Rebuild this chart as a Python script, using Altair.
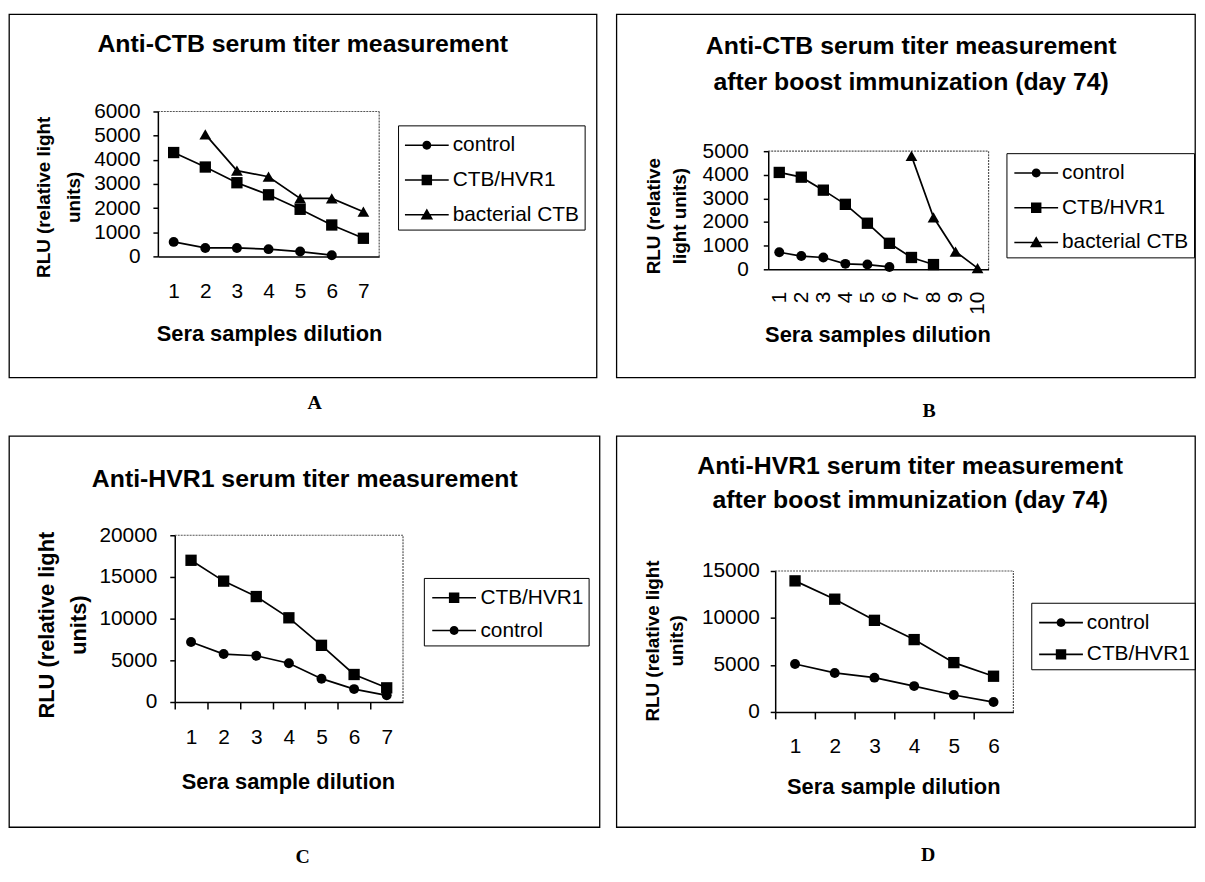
import altair as alt
import pandas as pd

SANS = "Liberation Sans"
SERIF = "Liberation Serif"

# ---------------- data ----------------
A_control_dil = [1, 2, 3, 4, 5, 6]
A_control = [600, 350, 350, 300, 200, 50]
A_ctb_dil = [1, 2, 3, 4, 5, 6, 7]
A_ctb_hvr1 = [4300, 3700, 3050, 2550, 1950, 1300, 750]
A_bact_dil = [2, 3, 4, 5, 6, 7]
A_bacterial = [5050, 3550, 3300, 2400, 2400, 1850]

B_control_dil = [1, 2, 3, 4, 5, 6]
B_control = [720, 560, 500, 230, 200, 100]
B_ctb_dil = [1, 2, 3, 4, 5, 6, 7, 8]
B_ctb_hvr1 = [4100, 3900, 3350, 2750, 1950, 1100, 500, 200]
B_bact_dil = [7, 8, 9, 10]
B_bacterial = [4800, 2200, 750, 50]

C_dil = [1, 2, 3, 4, 5, 6, 7]
C_ctb_hvr1 = [17000, 14500, 12650, 10100, 6800, 3300, 1700]
C_control = [7200, 5750, 5550, 4650, 2800, 1550, 800]

D_dil = [1, 2, 3, 4, 5, 6]
D_control = [5100, 4150, 3650, 2750, 1800, 1050]
D_ctb_hvr1 = [13950, 12000, 9750, 7700, 5250, 3800]

A_yticks = [0, 1000, 2000, 3000, 4000, 5000, 6000]
B_yticks = [0, 1000, 2000, 3000, 4000, 5000]
C_yticks = [0, 5000, 10000, 15000, 20000]
D_yticks = [0, 5000, 10000, 15000]

# ---------------- styles ----------------
SHAPES = {"control": "circle", "CTB/HVR1": "square", "bacterial CTB": "triangle-up"}
SIZES = {"control": 100, "CTB/HVR1": 130, "bacterial CTB": 140}
LINE = "M-1.47,-0.055H1.47V0.055H-1.47Z"
LEG_PATHS = {
    "control": LINE + "M-0.3,0A0.3,0.3 0 1,1 0.3,0A0.3,0.3 0 1,1 -0.3,0Z",
    "CTB/HVR1": LINE + "M-0.35,-0.35H0.35V0.35H-0.35Z",
    "bacterial CTB": LINE + "M0,-0.42L0.42,0.32L-0.42,0.32Z",
}


def panel(series, c):
    rows = []
    for name, dils, vals in series:
        for d, v in zip(dils, vals):
            rows.append({"dilution": d, "value": v, "series": name})
    df = pd.DataFrame(rows)
    order = c["order"]
    x0, x1 = c["xr"]
    y0, y1 = c["yr"]
    lo, hi = c["xdom"]
    ymax = c["ymax"]
    W, H = c["size"]
    n = c["n"]
    half = (x1 - x0) / (hi - lo) / 2

    common = dict(grid=False, domainColor="black", domainWidth=1.5, tickColor="black",
                  tickWidth=1.5, labelFont=SANS, labelFontSize=21, labelColor="black",
                  labelFlush=False, labelOverlap=False, labelBound=False, format="d",
                  titleFont=SANS, titleFontWeight="bold", titleColor="black",
                  titleAlign="center", titleBaseline="middle", zindex=1)
    if c["xticks"]:
        xaxis = alt.Axis(orient="bottom", offset=y0 - H, values=list(range(1, n + 2)),
                         labelExpr=f"datum.value > {n} ? '' : datum.label",
                         ticks=True, tickSize=7, tickOffset=-half, labelOffset=half,
                         labelPadding=c["xlp"], labelAngle=0,
                         title=c["xtitle"], titleFontSize=22, titleAngle=0,
                         titleX=c["xt"][0], titleY=c["xt"][1] - y0, **common)
    else:
        if c.get("rot"):
            extra = dict(labelAngle=270, labelAlign="right", labelBaseline="middle")
        else:
            extra = dict(labelAngle=0)
        xaxis = alt.Axis(orient="bottom", offset=y0 - H, values=list(range(1, n + 1)),
                         ticks=False, tickSize=0, labelPadding=c["xlp"],
                         title=c["xtitle"], titleFontSize=22, titleAngle=0,
                         titleX=c["xt"][0], titleY=c["xt"][1] - y0, **extra, **common)
    # titleX / titleY give the position of the first title line
    yaxis = alt.Axis(orient="left", offset=-x0, values=c["yticks"],
                     ticks=True, tickSize=5, labelPadding=c["ylp"],
                     title=c["ytitle"], titleFontSize=c["ytfs"], titleAngle=270,
                     titleLineHeight=c["ytlh"], titleX=c["yt"][0] - x0, titleY=c["yt"][1],
                     **common)

    xs = alt.Scale(domain=[lo, hi], range=[x0, x1], nice=False, zero=False)
    ys = alt.Scale(domain=[0, ymax], range=[y0, y1], nice=False, zero=False)
    ex = alt.X("dilution:Q", scale=xs, axis=xaxis)
    ey = alt.Y("value:Q", scale=ys, axis=yaxis)

    base = alt.Chart(df)
    line = base.mark_line(color="black", strokeWidth=1.7).encode(x=ex, y=ey, detail="series:N")
    pts = [
        base.transform_filter(alt.datum.series == s)
        .mark_point(shape=SHAPES[s], size=SIZES[s], filled=True, color="black", opacity=1)
        .encode(x=ex, y=ey)
        for s in order
    ]
    L = c["leg"]
    leg = (
        base.transform_filter("false")
        .mark_point(filled=True, color="black")
        .encode(
            x=ex, y=ey,
            shape=alt.Shape(
                "series:N",
                scale=alt.Scale(domain=order, range=[LEG_PATHS[s] for s in order]),
                legend=alt.Legend(
                    title=None, orient="none", legendX=L["x"], legendY=L["y"],
                    direction="vertical", strokeColor="black", padding=5,
                    symbolSize=900, symbolOffset=L["so"], labelOffset=L["lo"],
                    rowPadding=L["rp"], symbolFillColor="black", symbolStrokeWidth=0,
                    symbolOpacity=1, labelFont=SANS, labelFontSize=21,
                    labelColor="black", labelLimit=400,
                ),
            ),
        )
    )
    one = pd.DataFrame({"k": [0]})
    frame_top = alt.Chart(one).mark_rule(color="#555555", strokeDash=[2, 1], strokeWidth=1.2).encode(
        x=alt.datum(lo), x2=alt.datum(hi), y=alt.datum(ymax))
    frame_right = alt.Chart(one).mark_rule(color="#555555", strokeDash=[2, 1], strokeWidth=1.2).encode(
        x=alt.datum(hi), y=alt.datum(0), y2=alt.datum(ymax))
    heading = alt.Chart(one).mark_text(
        text=c["heading"], font=SANS, fontSize=25, fontWeight="bold", lineHeight=c["hlh"],
        align="center", baseline="middle", color="black").encode(
        x=alt.value(c["hc"][0]), y=alt.value(c["hc"][1]))
    letter = alt.Chart(one).mark_text(
        text=c["letter"], font=SERIF, fontSize=20, fontWeight="bold",
        align="center", baseline="middle", color="black").encode(
        x=alt.value(c["lc"][0]), y=alt.value(c["lc"][1]))
    return alt.layer(frame_top, frame_right, line, *pts, leg, heading, letter).properties(width=W, height=H)


pA = panel(
    [("control", A_control_dil, A_control), ("CTB/HVR1", A_ctb_dil, A_ctb_hvr1),
     ("bacterial CTB", A_bact_dil, A_bacterial)],
    dict(order=["control", "CTB/HVR1", "bacterial CTB"], xr=(150, 373), yr=(244, 98),
         xdom=(0.5, 7.5), ymax=6000, size=(592, 366), n=7, xticks=False, xlp=24,
         xtitle="Sera samples dilution", xt=(262, 322), yticks=A_yticks, ylp=13,
         ytitle=["RLU (relative light", "units)"], ytfs=19, ytlh=30, yt=(35, 184),
         leg=dict(x=392, y=112, so=9, lo=11, rp=10),
         heading=["Anti-CTB serum titer measurement"], hlh=36, hc=(296, 30),
         letter="A", lc=(308, 392)))

pB = panel(
    [("control", B_control_dil, B_control), ("CTB/HVR1", B_ctb_dil, B_ctb_hvr1),
     ("bacterial CTB", B_bact_dil, B_bacterial)],
    dict(order=["control", "CTB/HVR1", "bacterial CTB"], xr=(153, 375), yr=(257, 138),
         xdom=(0.5, 10.5), ymax=5000, size=(583, 366), n=10, xticks=False, rot=True, xlp=22,
         xtitle="Sera samples dilution", xt=(263, 323), yticks=B_yticks, ylp=15,
         ytitle=["RLU (relative", "light units)"], ytfs=19, ytlh=27, yt=(37, 203),
         leg=dict(x=393, y=140, so=10, lo=11, rp=10),
         heading=["Anti-CTB serum titer measurement", "after boost immunization (day 74)"],
         hlh=36, hc=(297, 32), letter="B", lc=(315, 400)))

pC = panel(
    [("CTB/HVR1", C_dil, C_ctb_hvr1), ("control", C_dil, C_control)],
    dict(order=["CTB/HVR1", "control"], xr=(167, 397), yr=(268, 100),
         xdom=(0.5, 7.5), ymax=20000, size=(595, 394), n=7, xticks=True, xlp=18,
         xtitle="Sera sample dilution", xt=(281, 348), yticks=C_yticks, ylp=13,
         ytitle=["RLU (relative light", "units)"], ytfs=22, ytlh=32, yt=(38, 190),
         leg=dict(x=418, y=143, so=10.5, lo=11.5, rp=8),
         heading=["Anti-HVR1 serum titer measurement"], hlh=36, hc=(298, 43),
         letter="C", lc=(296, 424)))

pD = panel(
    [("control", D_dil, D_control), ("CTB/HVR1", D_dil, D_ctb_hvr1)],
    dict(order=["control", "CTB/HVR1"], xr=(160, 400), yr=(278, 136),
         xdom=(0.5, 6.5), ymax=15000, size=(583, 394), n=6, xticks=True, xlp=17,
         xtitle="Sera sample dilution", xt=(279, 353), yticks=D_yticks, ylp=11,
         ytitle=["RLU (relative light", "units)"], ytfs=19, ytlh=25, yt=(36, 206),
         leg=dict(x=418, y=168, so=10, lo=11, rp=7),
         heading=["Anti-HVR1 serum titer measurement", "after boost immunization (day 74)"],
         hlh=35, hc=(296, 30), letter="D", lc=(314, 422)))

chart = (
    alt.concat(pA, pB, pC, pD, columns=2, bounds="flush",
               spacing={"row": 59, "column": 17})
    .resolve_scale(shape="independent")
    .resolve_legend(shape="independent")
    .properties(padding={"left": 0, "top": 2, "right": 0, "bottom": 0}, background="white")
    .configure_view(stroke="black", strokeWidth=1.3)
)

chart.save("out.html", embed_options={"renderer": "svg", "actions": False})
